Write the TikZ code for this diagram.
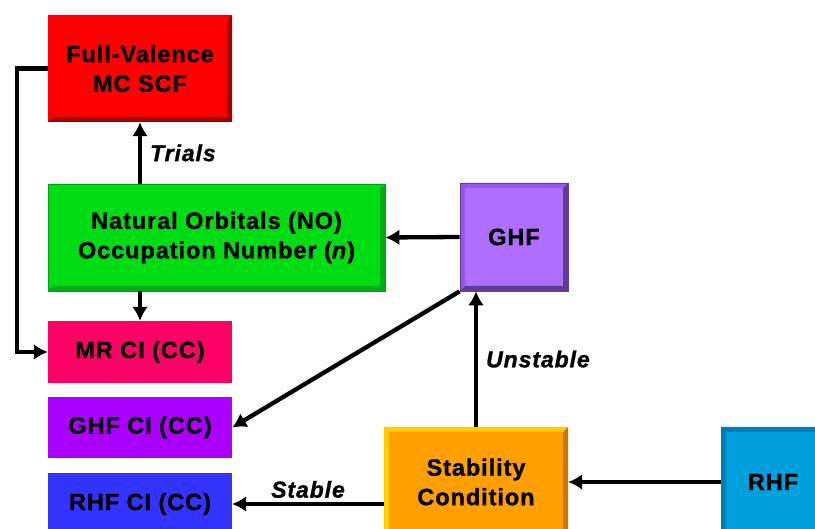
\documentclass[tikz,border=0pt]{standalone}
\usepackage{fontspec}
\setmainfont{Liberation Sans}
\newfontfamily\boxfont[LetterSpace=4, BoldFeatures={FakeBold=1.2}, BoldItalicFeatures={FakeBold=1.2}]{Liberation Sans}
\usepackage{xcolor}
\usepackage{tikz}
\usetikzlibrary{positioning, calc, arrows.meta}
\definecolor{scRed}{RGB}{255, 0, 0}
\definecolor{scRedDark}{RGB}{165, 0, 0}
\definecolor{noGreen}{RGB}{0, 220, 20}
\definecolor{noGreenDark}{RGB}{0, 160, 20}
\definecolor{ghfPurple}{RGB}{176, 110, 255}
\definecolor{ghfPurpleLight}{RGB}{150, 85, 235}
\definecolor{ghfPurpleDark}{RGB}{95, 60, 150}
\definecolor{mrPink}{RGB}{255, 0, 102}
\definecolor{ciViolet}{RGB}{170, 0, 255}
\definecolor{ciBlue}{RGB}{51, 51, 255}
\definecolor{stOrange}{RGB}{255, 160, 0}
\definecolor{stOrangeLight}{RGB}{255, 205, 0}
\definecolor{stOrangeDark}{RGB}{200, 120, 0}
\definecolor{rhfCyan}{RGB}{0, 160, 220}
\definecolor{rhfCyanDark}{RGB}{0, 125, 180}
\tikzset{
    base/.style={
        font=\boxfont\fontsize{23.5}{29.5}\selectfont\bfseries,
        align=center,
        text=black
    },
    box/.style={
        base,
        rectangle,
        inner sep=0pt
    },
    bevel/.style 2 args={
        path picture={
            \fill[#1] (path picture bounding box.south west) -- (path picture bounding box.north west)
                -- (path picture bounding box.north east) -- ([shift={(-5pt,-5pt)}]path picture bounding box.north east)
                -- ([shift={(5pt,-5pt)}]path picture bounding box.north west) -- ([shift={(5pt,5pt)}]path picture bounding box.south west) -- cycle;
            \fill[#2] (path picture bounding box.north east) -- (path picture bounding box.south east)
                -- (path picture bounding box.south west) -- ([shift={(5pt,5pt)}]path picture bounding box.south west)
                -- ([shift={(-5pt,5pt)}]path picture bounding box.south east) -- ([shift={(-5pt,-5pt)}]path picture bounding box.north east) -- cycle;
        }
    },
    flow/.style={
        -{Latex[length=14pt,width=16pt]},
        line width=4.3pt,
        color=black
    },
    label/.style={
        font=\boxfont\fontsize{23}{26}\selectfont\bfseries\itshape,
        text=black,
        inner sep=2pt
    }
}

\begin{document}
\begin{tikzpicture}[x=1pt, y=-1pt]
  \clip (0,0) rectangle (815,529);

  % Boxes
  \node[box, fill=scRed, bevel={scRed}{scRedDark}, minimum width=184pt, minimum height=107pt] (fv) at (140,68.5) {Full-Valence\\MC SCF};
  \node[box, fill=noGreen, draw=noGreenDark, line width=0.8pt, bevel={noGreen}{noGreenDark!80!noGreen}, minimum width=337pt, minimum height=107pt] (no) at (216.5,237.5) {Natural Orbitals (NO)\\Occupation Number (\textit{n})};
  \node[box, fill=ghfPurple, draw=ghfPurpleDark, line width=0.8pt, bevel={ghfPurpleLight}{ghfPurpleDark}, minimum width=108pt, minimum height=108pt] (ghf) at (514,237) {GHF};
  \node[box, fill=mrPink, minimum width=184pt, minimum height=62pt] (mrci) at (140,352) {MR CI (CC)};
  \node[box, fill=ciViolet, minimum width=184pt, minimum height=61pt] (ghfci) at (140,427.5) {GHF CI (CC)};
  \node[box, fill=ciBlue, minimum width=184pt, minimum height=62pt] (rhfci) at (140,504) {RHF CI (CC)};
  \node[box, fill=stOrange, bevel={stOrangeLight}{stOrangeDark}, minimum width=184pt, minimum height=110pt] (stab) at (476,482) {Stability\\Condition};
  \node[box, fill=rhfCyan, bevel={rhfCyanDark}{rhfCyan}, minimum width=104pt, minimum height=110pt] (rhf) at (773,482) {RHF};

  % Arrows
  \draw[flow] (no.north -| fv.south) -- (fv.south) node[midway, right=6pt, label] {Trials};
  \draw[flow] (no.south -| mrci.north) -- (mrci.north);
  \draw[flow] (fv.west) -- ([xshift=-31pt]fv.west) |- (mrci.west);
  \draw[flow] (ghf.west) -- (no.east);
  \draw[flow] (ghf.south west) -- (ghfci.east);
  \draw[flow] (stab.north) -- (stab.north |- ghf.south) node[midway, right=6pt, label] {Unstable};
  \draw[flow] (rhf.west) -- (stab.east);
  \draw[flow] (stab.west |- rhfci.east) -- (rhfci.east) node[midway, above=2pt, label] {Stable};
\end{tikzpicture}
\end{document}
